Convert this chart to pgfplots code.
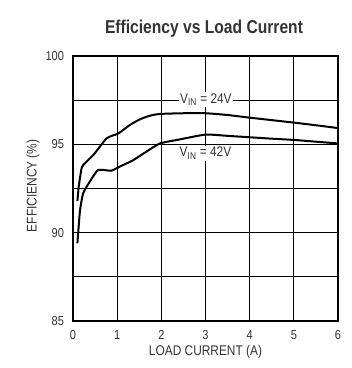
\documentclass[border=0pt]{standalone}
\usepackage{pgfplots}
\pgfplotsset{compat=1.18}
\usepackage{fontspec}
\setmainfont{Liberation Sans}[FakeStretch=0.85]
\newfontfamily\titlefont{Liberation Sans}[FakeStretch=0.84]
\definecolor{txt}{gray}{0.2}
\begin{document}
\begin{tikzpicture}[x=1pt,y=1pt]
\useasboundingbox (-73,-47) rectangle (279,321);
\begin{axis}[
  at={(0,0)}, anchor=south west,
  scale only axis, width=265pt, height=265pt,
  xmin=0, xmax=6, ymin=85, ymax=100,
  xtick={0,1,2,3,4,5,6},
  ytick={85,90,95,100},
  minor ytick={87.5,92.5,97.5},
  grid=both,
  major grid style={black, line width=0.8pt},
  minor grid style={black, line width=0.8pt},
  axis line style={black, line width=1.2pt},
  major tick length=0pt, minor tick length=0pt,
  tick label style={font=\fontsize{13}{14}\selectfont, text=txt},
  /pgf/number format/assume math mode=true,
  xticklabel style={anchor=base, yshift=-18.5pt},
  yticklabel style={anchor=east, xshift=-5.5pt},
  xlabel={LOAD CURRENT (A)},
  ylabel={EFFICIENCY (\%)},
  label style={font=\fontsize{14}{16}\selectfont, text=txt},
  xlabel style={at={(axis description cs:0.5,0)}, anchor=base, yshift=-34pt},
  ylabel style={at={(axis description cs:-0.151,0.51)}, anchor=center},
  clip=false,
]
\addplot[black, line width=2pt, smooth, tension=0.35] coordinates {
(0.1,91.8) (0.13,92.6) (0.2,93.7) (0.3,94.0) (0.46,94.4) (0.61,94.87)
(0.76,95.34) (0.9,95.5) (1.03,95.62) (1.29,96.1) (1.52,96.42) (1.74,96.62)
(1.97,96.72) (2.5,96.76) (3.0,96.76) (3.5,96.66) (4.0,96.51) (4.5,96.37)
(5.0,96.23) (5.5,96.08) (6.0,95.92)};
\addplot[black, line width=2pt, smooth, tension=0.35] coordinates {
(0.1,89.4) (0.13,90.4) (0.16,91.28) (0.23,92.23) (0.38,92.89) (0.5,93.35)
(0.57,93.55) (0.69,93.55) (0.87,93.51) (1.06,93.74) (1.36,94.1) (1.67,94.6)
(1.97,95.05) (2.42,95.28) (3.0,95.55) (3.5,95.48) (4.0,95.40) (4.5,95.32)
(5.0,95.25) (5.5,95.15) (6.0,95.05)};
\node[fill=white, inner sep=1.5pt, text=txt, font=\fontsize{14}{16}\selectfont] at (axis cs:3.01,97.52) {V\textsubscript{IN} = 24V};
\node[fill=white, inner sep=1.5pt, text=txt, font=\fontsize{14}{16}\selectfont] at (axis cs:3.0,94.5) {V\textsubscript{IN} = 42V};
\end{axis}
\node[font=\titlefont\bfseries\fontsize{18.6}{22}\selectfont, text=txt, anchor=base] at (131,287.7) {Efficiency vs Load Current};
\end{tikzpicture}
\end{document}
